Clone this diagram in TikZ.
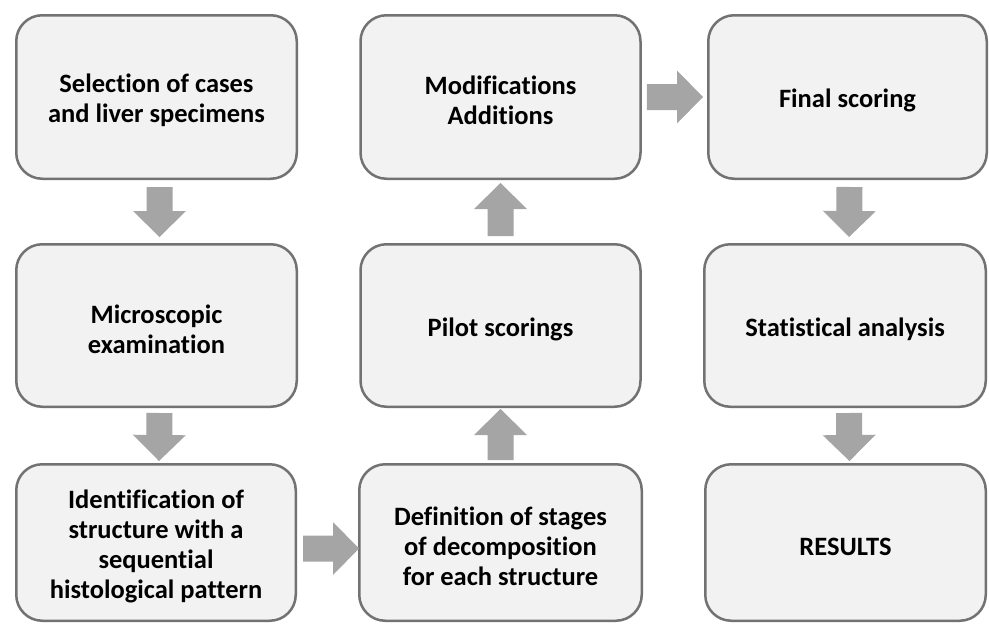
\documentclass[tikz,border=0pt]{standalone}
\usepackage{fontspec}
\setmainfont{Carlito}[Ligatures=NoCommon]
\usetikzlibrary{calc}
\definecolor{boxfill}{HTML}{F2F2F2}
\definecolor{boxline}{HTML}{727272}
\definecolor{arrowgray}{HTML}{A5A5A5}
\newcommand{\tstr}{\rule{0pt}{26pt}}
\newcommand{\blockarr}[2]{%
  \coordinate (hb) at ($(#2)!26pt!(#1)$);
  \fill[arrowgray] ($(#1)!13pt!90:(#2)$) -- ($(hb)!13pt!90:(#2)$) -- ($(hb)!26.5pt!90:(#2)$) -- (#2) -- ($(hb)!26.5pt!-90:(#2)$) -- ($(hb)!13pt!-90:(#2)$) -- ($(#1)!13pt!-90:(#2)$) -- cycle;}
\begin{document}
\begin{tikzpicture}[x=1pt,y=-1pt,
  box/.style={draw=boxline, line width=2.5pt, fill=boxfill, rounded corners=26pt,
    align=center, font=\fontsize{26.5}{30}\selectfont\bfseries, inner sep=0pt}]
\useasboundingbox (0,0) rectangle (989,624);
\node[box, minimum width=280.5pt, minimum height=163.5pt] (n1) at (156.5,97) {\tstr Selection of cases\\and liver specimens};
\node[box, minimum width=280.5pt, minimum height=162.5pt] (n2) at (156.5,325.5) {\tstr Microscopic\\examination};
\node[box, minimum width=279.5pt, minimum height=156.5pt] (n3) at (156,542.5) {\tstr Identification of\\structure with a\\sequential\\histological pattern};
\node[box, minimum width=282.5pt, minimum height=156.5pt] (n4) at (500.5,542.5) {\tstr Definition of stages\\of decomposition\\for each structure};
\node[box, minimum width=280pt, minimum height=162.5pt] (n5) at (500.5,325.5) {\tstr Pilot scorings};
\node[box, minimum width=280pt, minimum height=163.5pt] (n6) at (500.5,97) {\tstr Modifications\\Additions};
\node[box, minimum width=278.5pt, minimum height=163.5pt] (n7) at (847.5,97) {\tstr Final scoring};
\node[box, minimum width=281.5pt, minimum height=162.5pt] (n8) at (845,325.5) {\tstr Statistical analysis};
\node[box, minimum width=280.5pt, minimum height=156.5pt] (n9) at (845.5,542.5) {\tstr RESULTS};
% connectors
\coordinate (s12) at ($(n1.south)+(3,7)$); \coordinate (t12) at ($(n2.north)+(3,-6)$);
\blockarr{s12}{t12}
\coordinate (s23) at ($(n2.south)+(3,5)$); \coordinate (t23) at ($(n3.north)+(3,-2)$);
\blockarr{s23}{t23}
\coordinate (s34) at ($(n3.east)+(6,6)$); \coordinate (t34) at ($(n4.west)+(1,6)$);
\blockarr{s34}{t34}
\coordinate (s45) at ($(n4.north)+(0,-3)$); \coordinate (t45) at ($(n5.south)+(0,1)$);
\blockarr{s45}{t45}
\coordinate (s56) at ($(n5.north)+(0,-7)$); \coordinate (t56) at ($(n6.south)+(0,3)$);
\blockarr{s56}{t56}
\coordinate (s67) at ($(n6.east)+(5,0)$); \coordinate (t67) at ($(n7.west)+(-4,0)$);
\blockarr{s67}{t67}
\coordinate (s78) at ($(n7.south)+(2,7)$); \coordinate (t78) at ($(n8.north)+(4,-6)$);
\blockarr{s78}{t78}
\coordinate (s89) at ($(n8.south)+(4,5)$); \coordinate (t89) at ($(n9.north)+(4,-2)$);
\blockarr{s89}{t89}
\end{tikzpicture}
\end{document}
